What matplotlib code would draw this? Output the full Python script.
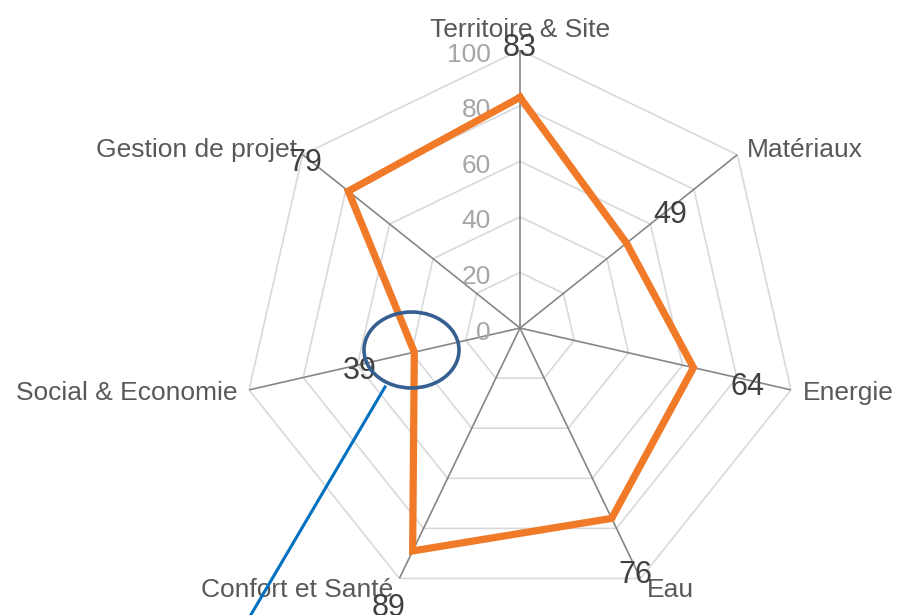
import numpy as np
import matplotlib.pyplot as plt
from matplotlib.patches import Ellipse

plt.rcParams['font.family'] = ['Liberation Sans', 'DejaVu Sans']

# scores par thème (sens horaire depuis le haut)
categories = ['Territoire & Site', 'Matériaux', 'Energie', 'Eau',
              'Confort et Santé', 'Social & Economie', 'Gestion de projet']
scores = [83, 49, 64, 76, 89, 39, 79]
rings = [0, 20, 40, 60, 80, 100]

PX = 0.72  # pixels -> points at dpi 100

n = len(categories)
angles = np.linspace(0, 2 * np.pi, n, endpoint=False)

fig = plt.figure(figsize=(8.97, 6.15), dpi=100)
ax = fig.add_axes([0.2698, 0.0146, 0.6198, 0.904], projection='polar')
ax.set_theta_zero_location('N')
ax.set_theta_direction(-1)
ax.set_ylim(0, 100)
ax.grid(False)
ax.set_xticks([])
ax.set_yticks([])
ax.spines['polar'].set_visible(False)
ax.patch.set_alpha(0)

# heptagon grid
closed = np.append(angles, angles[0])
for r in rings[1:]:
    ax.plot(closed, [r] * (n + 1), color='#d9d9d9', lw=1.2, zorder=1)
for a in angles:
    ax.plot([a, a], [0, 100], color='#868686', lw=1.2, zorder=2)

# radial tick labels on the top axis
for r in rings:
    ax.annotate(str(r), xy=(0, r), xytext=(-29 * PX, -2 * PX), textcoords='offset points',
                ha='right', va='center_baseline', fontsize=19, color='#a6a6a6', zorder=3)

# data polygon
vals = scores + [scores[0]]
ax.plot(closed, vals, color='#f07a28', lw=5.2, solid_joinstyle='miter', zorder=4)

# value labels, pushed out along each axis
for a, v in zip(angles, scores):
    ax.annotate(str(v), xy=(a, v + 20), xytext=(0, -3 * PX), textcoords='offset points',
                ha='center', va='center_baseline', fontsize=22,
                color='#404040', zorder=5, annotation_clip=False)

# category labels
label_pos = [
    ('center', 'bottom', 0, 8),
    ('left', 'center', 10, 5),
    ('left', 'center', 12, -3),
    ('left', 'center', 6, -12),
    ('right', 'center', -6, -12),
    ('right', 'center', -11, -3),
    ('right', 'center', -6, 5),
]
for a, name, (ha, va, dx, dy) in zip(angles, categories, label_pos):
    ax.annotate(name, xy=(a, 100), xytext=(dx * PX, dy * PX), textcoords='offset points',
                ha=ha, va=va, fontsize=19, color='#595959', annotation_clip=False)

# highlight on the weakest score
over = fig.add_axes([0, 0, 1, 1])
over.set_xlim(0, 897)
over.set_ylim(615, 0)
over.axis('off')
over.add_patch(Ellipse((411.5, 350), 95, 76, fill=False, ec='#365f91', lw=2.6))
over.plot([385, 249], [387, 618], color='#0070c0', lw=2.2, clip_on=False)

fig.savefig('out.png', dpi=100)
